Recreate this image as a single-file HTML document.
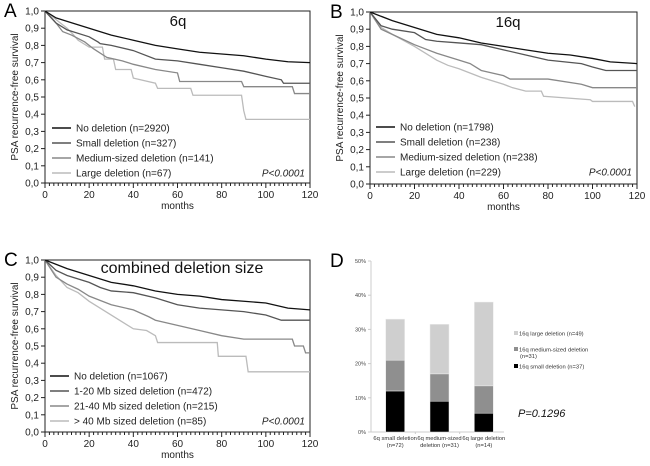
<!DOCTYPE html>
<html><head><meta charset="utf-8"><style>
html,body{margin:0;padding:0;background:#fff;}
svg{display:block;font-family:"Liberation Sans",Arial,sans-serif;}
</style></head><body>
<svg id="fig" width="650" height="466" viewBox="0 0 650 466" xmlns="http://www.w3.org/2000/svg"></svg>
<script>
const NS="http://www.w3.org/2000/svg";
// ---- Panel A (6q) data: [month, survival]
const aNo=[[0,1],[5,0.96],[10,0.94],[20,0.9],[30,0.86],[40,0.83],[50,0.8],[60,0.78],[70,0.76],[80,0.75],[90,0.74],[100,0.72],[110,0.705],[120,0.7]];
const aSmall=[[0,1],[5,0.93],[10,0.89],[20,0.85],[24,0.82],[25,0.81],[30,0.8],[40,0.77],[50,0.72],[60,0.71],[70,0.69],[80,0.67],[90,0.65],[100,0.62],[107,0.6],[108,0.58],[120,0.58]];
const aMed=[[0,1],[5,0.93],[8,0.88],[12,0.86],[18,0.82],[22,0.78],[28,0.73],[35,0.71],[40,0.69],[50,0.66],[60,0.64],[61,0.59],[89,0.59],[90,0.56],[112,0.56],[113,0.52],[120,0.52]];
const aLarge=[[0,1],[5,0.95],[10,0.9],[13,0.86],[15,0.83],[20,0.79],[26,0.79],[27,0.72],[31,0.72],[32,0.66],[39,0.66],[40,0.61],[50,0.58],[51,0.55],[66,0.55],[67,0.51],[89,0.51],[90,0.42],[91,0.37],[120,0.37]];
const aLabels=["No deletion (n=2920)","Small deletion (n=327)","Medium-sized deletion (n=141)","Large deletion (n=67)"];
// ---- Panel B (16q)
const bNo=[[0,1],[10,0.95],[20,0.91],[30,0.87],[40,0.85],[50,0.82],[60,0.8],[70,0.78],[80,0.76],[90,0.75],[100,0.73],[108,0.71],[120,0.7]];
const bSmall=[[0,1],[5,0.92],[10,0.9],[20,0.88],[25,0.84],[30,0.83],[40,0.82],[50,0.81],[60,0.78],[70,0.75],[80,0.72],[95,0.7],[100,0.68],[106,0.66],[120,0.66]];
const bMed=[[0,1],[5,0.9],[10,0.87],[20,0.81],[30,0.76],[40,0.72],[45,0.7],[50,0.66],[60,0.63],[63,0.61],[80,0.61],[95,0.58],[100,0.56],[120,0.56]];
const bLarge=[[0,1],[5,0.91],[10,0.87],[20,0.8],[30,0.72],[35,0.69],[40,0.67],[50,0.62],[60,0.58],[64,0.56],[70,0.54],[77,0.54],[78,0.51],[99,0.49],[100,0.48],[118,0.48],[119,0.45]];
const bLabels=["No deletion (n=1798)","Small deletion (n=238)","Medium-sized deletion (n=238)","Large deletion (n=229)"];
// ---- Panel C (combined)
const cNo=[[0,1],[10,0.95],[20,0.91],[30,0.87],[40,0.85],[50,0.82],[60,0.8],[70,0.79],[80,0.77],[90,0.76],[100,0.75],[110,0.72],[120,0.71]];
const cSmall=[[0,1],[5,0.94],[10,0.91],[20,0.87],[25,0.84],[30,0.82],[40,0.81],[50,0.78],[60,0.74],[70,0.72],[80,0.71],[90,0.7],[100,0.68],[107,0.65],[120,0.65]];
const cMed=[[0,1],[5,0.9],[10,0.86],[15,0.83],[20,0.79],[30,0.74],[40,0.71],[47,0.67],[50,0.65],[60,0.62],[70,0.59],[80,0.56],[90,0.54],[112,0.54],[113,0.5],[117,0.5],[118,0.46],[120,0.46]];
const cLarge=[[0,1],[5,0.91],[10,0.84],[15,0.81],[20,0.76],[25,0.72],[30,0.68],[35,0.64],[40,0.6],[46,0.59],[50,0.56],[51,0.52],[78,0.52],[78.5,0.44],[91,0.44],[92,0.35],[120,0.35]];
const cLabels=["No deletion (n=1067)","1-20 Mb sized deletion (n=472)","21-40 Mb sized deletion (n=215)","> 40 Mb sized deletion (n=85)"];
const yTicks=["0,0","0,1","0,2","0,3","0,4","0,5","0,6","0,7","0,8","0,9","1,0"];
const xTicks=[0,20,40,60,80,100,120];
// ---- Panel D (stacked bars, %)
const dCats=[["6q small deletion","(n=72)"],["6q medium-sized","deletion (n=31)"],["6q large deletion","(n=14)"]];
const dSmall=[12,9,5.5];
const dMedium=[9,8,8];
const dLarge=[12,14.5,24.5];
const dTicks=["0%","10%","20%","30%","40%","50%"];
const dLegend=["16q large deletion (n=49)","16q medium-sized deletion","16q small deletion (n=37)"];

const svg=document.getElementById('fig');
function el(tag,attrs,parent,text){const e=document.createElementNS(NS,tag);for(const k in attrs)e.setAttribute(k,attrs[k]);if(text!==undefined)e.textContent=text;(parent||svg).appendChild(e);return e;}
const colors=["#111","#555","#888","#bbb"];

function drawKM(id,letter,lx,px0,px1,py1,py0,title,tsize,tx,ty,series,labels,legX,legY,legDy){
  const g=el('g',{});
  
  
  const sx=m=>px0+(px1-px0)*m/120, sy=v=>py0-(py0-py1)*v;
  const L=el('text',{x:lx,y:py1+6,'font-size':19},g,letter);
  
  const fr=el('rect',{x:px0,y:py1,width:px1-px0,height:py0-py1,fill:'none',stroke:'#222','stroke-width':1},g);
  
  yTicks.forEach((t,i)=>{const y=sy(i/10);
    el('line',{x1:px0-4,x2:px0,y1:y,y2:y,stroke:'#222'},g);
    const tt=el('text',{x:px0-6,y:y+3.5,'font-size':10,'text-anchor':'end',fill:'#222'},g,t);
    });
  for(let m=0;m<=120;m+=2){const x=sx(m);el('line',{x1:x,x2:x,y1:py0,y2:py0+(m%20==0?5:3),stroke:'#222'},g);}
  xTicks.forEach(m=>{const tt=el('text',{x:sx(m),y:py0+15,'font-size':10,'text-anchor':'middle',fill:'#222'},g,m);
    });
  const xt=el('text',{x:(px0+px1)/2,y:py0+26,'font-size':10,'text-anchor':'middle',fill:'#222'},g,'months');
  
  const yt=el('text',{x:0,y:0,'font-size':10,'text-anchor':'middle',fill:'#222',transform:`translate(${px0-27},${(py0+py1)/2}) rotate(-90)`},g,'PSA recurrence-free survival');
  
  const ti=el('text',{x:tx,y:ty,'font-size':tsize,'text-anchor':'middle',fill:'#111'},g,title);
  
  series.slice().reverse().forEach((s,ri)=>{const i=series.length-1-ri;
    let d='M'+sx(s[0][0])+','+sy(s[0][1]);
    for(let k=1;k<s.length;k++){d+=' L'+sx(s[k][0])+','+sy(s[k][1]);}
    const p=el('path',{d:d,fill:'none',stroke:colors[i],'stroke-width':1.3},g);
    });
  labels.forEach((t,i)=>{const y=legY+i*legDy;
    const ln=el('line',{x1:legX,x2:legX+19,y1:y,y2:y,stroke:colors[i],'stroke-width':1.5},g);
    
    const tt=el('text',{x:legX+24,y:y+3.5,'font-size':10,fill:'#222'},g,t);
    });
  const pv=el('text',{x:px1-5,y:legY+3*legDy+3.5,'font-size':10,'font-style':'italic','text-anchor':'end',fill:'#222'},g,'P<0.0001');
  
}
drawKM('a','A',4,45,310,11,183,'6q',15,178,26,[aNo,aSmall,aMed,aLarge],aLabels,52,128,15);
drawKM('b','B',330,370,637,12,184,'16q',15,508,27,[bNo,bSmall,bMed,bLarge],bLabels,376,127,15);
drawKM('c','C',4,45,310,260,432,'combined deletion size',16,182,273,[cNo,cSmall,cMed,cLarge],cLabels,50,376,15);

// Panel D
(function(){
  const g=el('g',{});
  
  
  const ax0=371,ax1=504,y0=432,y50=261;
  const sy=v=>y0-(y0-y50)*v/50;
  const L=el('text',{x:330,y:267,'font-size':19},g,'D');
  
  el('line',{x1:ax0,x2:ax0,y1:y50,y2:y0,stroke:'#ccc'},g);
  el('line',{x1:ax0,x2:ax1,y1:y0,y2:y0,stroke:'#ccc'},g);
  dTicks.forEach((t,i)=>{const y=sy(i*10);
    el('line',{x1:ax0-3,x2:ax0,y1:y,y2:y,stroke:'#ccc'},g);
    const tt=el('text',{x:ax0-5,y:y+2,'font-size':5.5,'text-anchor':'end',fill:'#444'},g,t);
    });
  const bw=19, slot=(ax1-ax0)/3;
  dCats.forEach((c,i)=>{
    const x=ax0+slot*(i+0.5)-bw/2+2;
    let base=0;
    [[dSmall[i],'#000','small'],[dMedium[i],'#8f8f8f','medium'],[dLarge[i],'#cfcfcf','large']].forEach(([v,col,nm])=>{
      const r=el('rect',{x:x,y:sy(base+v),width:bw,height:sy(base)-sy(base+v),fill:col,stroke:'#eee','stroke-width':0.5},g);
      
      base+=v;});
    c.forEach((s,j)=>{const tt=el('text',{x:x+bw/2,y:y0+8+j*7,'font-size':5.8,'text-anchor':'middle',fill:'#333'},g,s);
      });
    if(i>0){el('line',{x1:ax0+slot*i,x2:ax0+slot*i,y1:y0,y2:y0+2,stroke:'#ccc'},g);}
  });
  const lc=['#cfcfcf','#8f8f8f','#000'], ly=[334,350,367];
  dLegend.forEach((t,i)=>{
    const r=el('rect',{x:514,y:ly[i]-3,width:4,height:4,fill:lc[i]},g);
    
    const tt=el('text',{x:519,y:ly[i]+1.5,'font-size':5.8,fill:'#333'},g,t);
    });
  const t2=el('text',{x:520,y:358,'font-size':5.8,fill:'#333'},g,'(n=31)');
  
  const pv=el('text',{x:518,y:417,'font-size':11,'font-style':'italic',fill:'#111'},g,'P=0.1296');
  
})();
</script>
</body></html>
